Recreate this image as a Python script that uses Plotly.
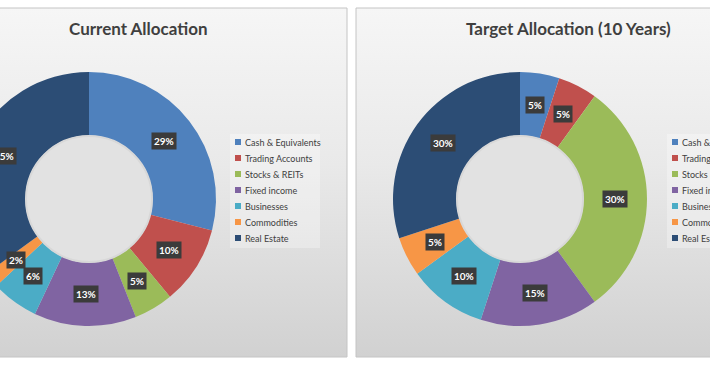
import math
import plotly.graph_objects as go

# ---- data ----
categories = ["Cash & Equivalents", "Trading Accounts", "Stocks & REITs",
              "Fixed income", "Businesses", "Commodities", "Real Estate"]
current_pct = [29, 10, 5, 13, 6, 2, 35]
target_pct = [5, 5, 30, 15, 10, 5, 30]
colors = ["#4F81BD", "#C0504D", "#9BBB59", "#8064A2", "#4BACC6", "#F79646", "#2C4D75"]
titles = ["Current Allocation", "Target Allocation (10 Years)"]

# ---- geometry (pixels, figure coords; page is shifted left by SHIFT) ----
W, H = 800, 365
SHIFT = 40
R = 127
HOLE = 0.5
CY = 199
RM = R * (1 + HOLE) / 2
FONT = "Lato"

panels = [
    dict(x0=-31, x1=387, cx=89 + SHIFT, tx=138 + SHIFT, lx0=230 + SHIFT, lx1=320 + SHIFT,
         vals=current_pct, title=titles[0]),
    dict(x0=396, x1=830, cx=520 + SHIFT, tx=568 + SHIFT, lx0=667 + SHIFT, lx1=770 + SHIFT,
         vals=target_pct, title=titles[1]),
]

fig = go.Figure()
annotations = []
shapes = []

for p in panels:
    # panel background with gradient
    fig.add_trace(go.Scatter(
        x=[p["x0"], p["x1"], p["x1"], p["x0"], p["x0"]],
        y=[8, 8, 357, 357, 8],
        fill="toself", mode="lines",
        line=dict(color="#c4c4c4", width=1),
        fillgradient=dict(type="vertical",
                          colorscale=[[0, "#f6f6f6"], [0.45, "#e9e9e9"], [1, "#d1d1d1"]],
                          start=8, stop=357),
        hoverinfo="skip", showlegend=False))

for p in panels:
    cx = p["cx"]
    fig.add_trace(go.Pie(
        labels=categories, values=p["vals"], hole=HOLE, sort=False,
        direction="clockwise", rotation=0,
        marker=dict(colors=colors, line=dict(width=0)),
        textinfo="none", showlegend=False,
        domain=dict(x=[(cx - R) / W, (cx + R) / W],
                    y=[1 - (CY + R) / H, 1 - (CY - R) / H]),
    ))
    # shaded hole
    hr = R * HOLE - 0.5
    shapes.append(dict(type="circle", xref="x", yref="y",
                       x0=cx - hr, x1=cx + hr, y0=CY - hr, y1=CY + hr,
                       fillcolor="#e2e2e2", line=dict(color="#d8d8d8", width=2), layer="above"))
    # data labels
    total = sum(p["vals"])
    cum = 0
    for v in p["vals"]:
        ang = 2 * math.pi * (cum + v / 2) / total
        cum += v
        annotations.append(dict(
            x=cx + RM * math.sin(ang), y=CY - RM * math.cos(ang),
            xref="x", yref="y", text=f"{v}%", showarrow=False,
            bgcolor="#3b3b3b", borderpad=2,
            font=dict(family=FONT, size=10, color="white", weight=700)))
    # title
    annotations.append(dict(
        x=p["tx"], y=28, xref="x", yref="y", text=p["title"], showarrow=False,
        font=dict(family=FONT, size=17, color="#3f3f3f", weight=700)))
    # legend box
    shapes.append(dict(type="rect", xref="x", yref="y",
                       x0=p["lx0"], x1=p["lx1"], y0=134, y1=248,
                       fillcolor="rgba(255,255,255,0.3)", line=dict(width=0), layer="above"))
    for i, (lab, col) in enumerate(zip(categories, colors)):
        yy = 142 + 16 * i
        sx = p["lx0"] + 5
        shapes.append(dict(type="rect", xref="x", yref="y",
                           x0=sx, x1=sx + 6, y0=yy - 3, y1=yy + 3,
                           fillcolor=col, line=dict(width=0), layer="above"))
        annotations.append(dict(
            x=sx + 8, y=yy, xref="x", yref="y", text=lab, showarrow=False,
            xanchor="left", yanchor="middle",
            font=dict(family=FONT, size=9, color="#404040")))

fig.update_layout(
    width=W, height=H,
    margin=dict(l=0, r=0, t=0, b=0),
    paper_bgcolor="white", plot_bgcolor="white",
    xaxis=dict(range=[0, W], visible=False, fixedrange=True),
    yaxis=dict(range=[H, 0], visible=False, fixedrange=True),
    annotations=annotations, shapes=shapes,
    showlegend=False,
)

post = ("document.body.style.margin='0';document.body.style.overflow='hidden';"
        "var g=document.getElementById('{plot_id}');g.style.marginLeft='-%dpx';" % SHIFT)
fig.write_html("out.html", post_script=post, config={"displayModeBar": False})
